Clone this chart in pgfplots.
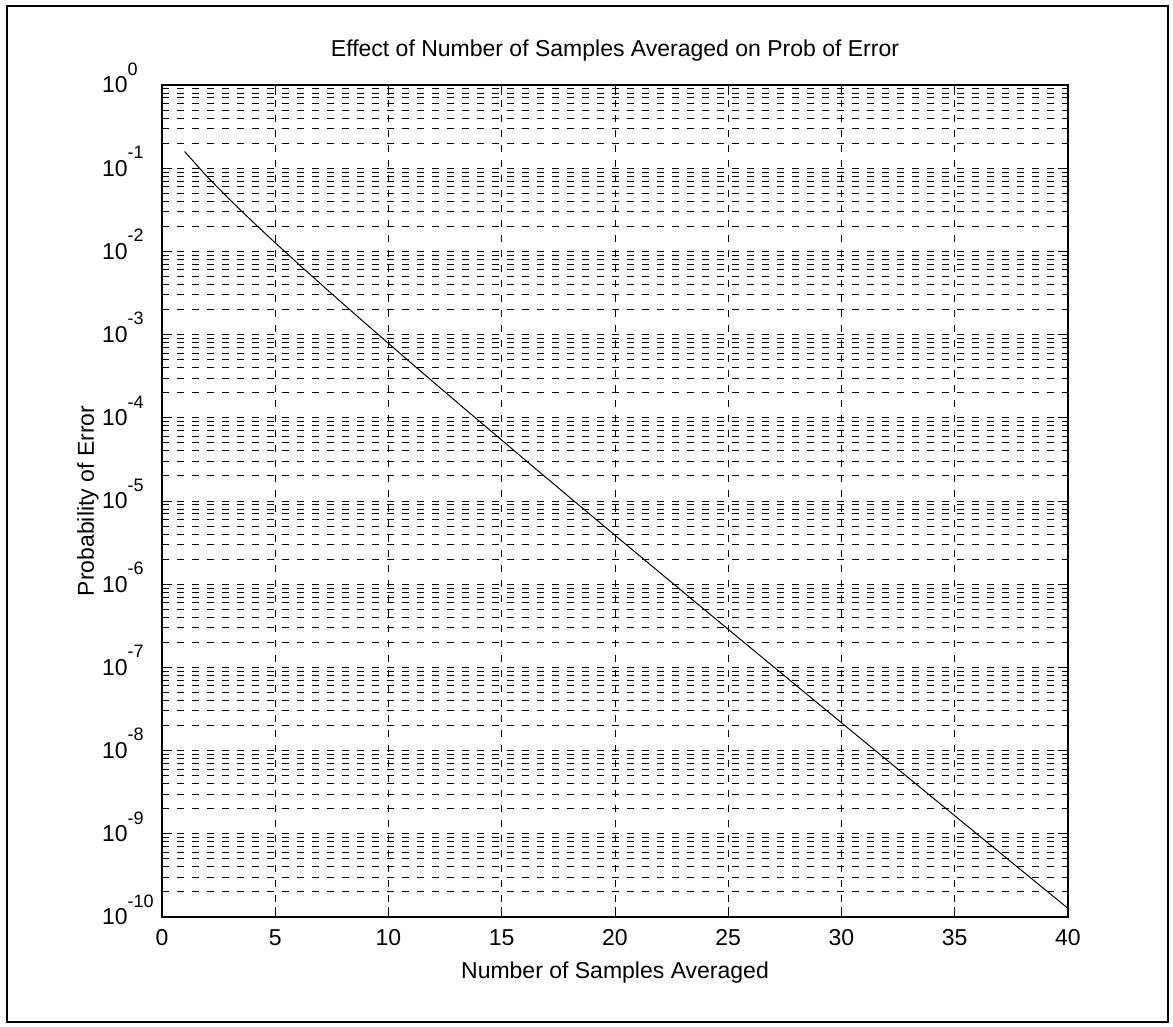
\documentclass[border=0pt]{standalone}
\usepackage{fontspec}
\setmainfont{Liberation Sans}
\usepackage{pgfplots}
\pgfplotsset{compat=1.18}

% MATLAB style label: 10 with a raised exponent that takes no room
\newcommand\ex[1]{10\rlap{\smash{\raisebox{8.8pt}{\fontsize{9}{9}\selectfont #1}}}}

% minor ticks 2..9 in every decade
\def\minorlist{}
\foreach \e in {-10,...,-1}{\foreach \m in {2,...,9}{\xdef\minorlist{\minorlist\m e\e,}}}
\xdef\minorlist{\minorlist 1}

\begin{document}
\fontsize{11.5}{13}\selectfont
\begin{tikzpicture}
\path[use as bounding box] (-81pt,-55pt) rectangle (505.5pt,458.5pt);
\draw[line width=1.4pt] (-77.5pt,-52.5pt) rectangle (503pt,455.5pt);
\begin{axis}[
  scale only axis, width=453pt, height=416pt,
  ymode=log, xmin=0, xmax=40, ymin=1e-10, ymax=1,
  xtick={0,5,...,40},
  ytick={1e-10,1e-9,1e-8,1e-7,1e-6,1e-5,1e-4,1e-3,1e-2,1e-1,1},
  yticklabels={\ex{-10},\ex{-9},\ex{-8},\ex{-7},\ex{-6},\ex{-5},\ex{-4},\ex{-3},\ex{-2},\ex{-1},\ex{0}},
  minor ytick/.expanded={\minorlist},
  /pgf/number format/assume math mode=true,
  xmajorgrids, ymajorgrids, yminorgrids,
  major grid style={black, line width=0.5pt, dash pattern=on 3.5pt off 4pt},
  minor grid style={black, line width=0.5pt, dash pattern=on 3.5pt off 4pt},
  axis line style={line width=0.6pt},
  tick style={black, line width=0.5pt},
  tick align=inside, xtick pos=both, ytick pos=both,
  major tick length=5pt, minor tick length=2.5pt,
  xticklabel style={inner sep=0pt, anchor=north, yshift=-6pt},
  yticklabel style={inner sep=0pt, anchor=east, xshift=-17pt},
  title={Effect of Number of Samples Averaged on Prob of Error},
  title style={at={(0.5,1)}, anchor=base, yshift=8pt, inner sep=0pt},
  xlabel={Number of Samples Averaged},
  xlabel style={at={(axis description cs:0.5,0)}, anchor=north, yshift=-22pt, inner sep=0pt},
  ylabel={Probability of Error},
  ylabel style={at={(axis description cs:-0.0751,0.5)}, anchor=base, inner sep=0pt},
]
\addplot[black, line width=0.5pt] coordinates {
(1,0.15866) (2,0.078650) (3,0.041633) (4,0.022750) (5,0.012674)
(6,0.0071529) (7,0.0040752) (8,0.0023389) (9,0.0013499) (10,7.8270e-4)
(11,4.5538e-4) (12,2.6603e-4) (13,1.5586e-4) (14,9.1543e-5) (15,5.3906e-5)
(16,3.1671e-5) (17,1.8709e-5) (18,1.1045e-5) (19,6.5416e-6) (20,3.8721e-6)
(21,2.2967e-6) (22,1.3635e-6) (23,8.1011e-7) (24,4.8171e-7) (25,2.8668e-7)
(26,1.7072e-7) (27,1.0173e-7) (28,6.0660e-8) (29,3.6190e-8) (30,2.1603e-8)
(31,1.2902e-8) (32,7.7089e-9) (33,4.6081e-9) (34,2.7556e-9) (35,1.6486e-9)
(36,9.866e-10) (37,5.9066e-10) (38,3.5372e-10) (39,2.1191e-10) (40,1.2699e-10)
};
\end{axis}
\end{tikzpicture}
\end{document}
